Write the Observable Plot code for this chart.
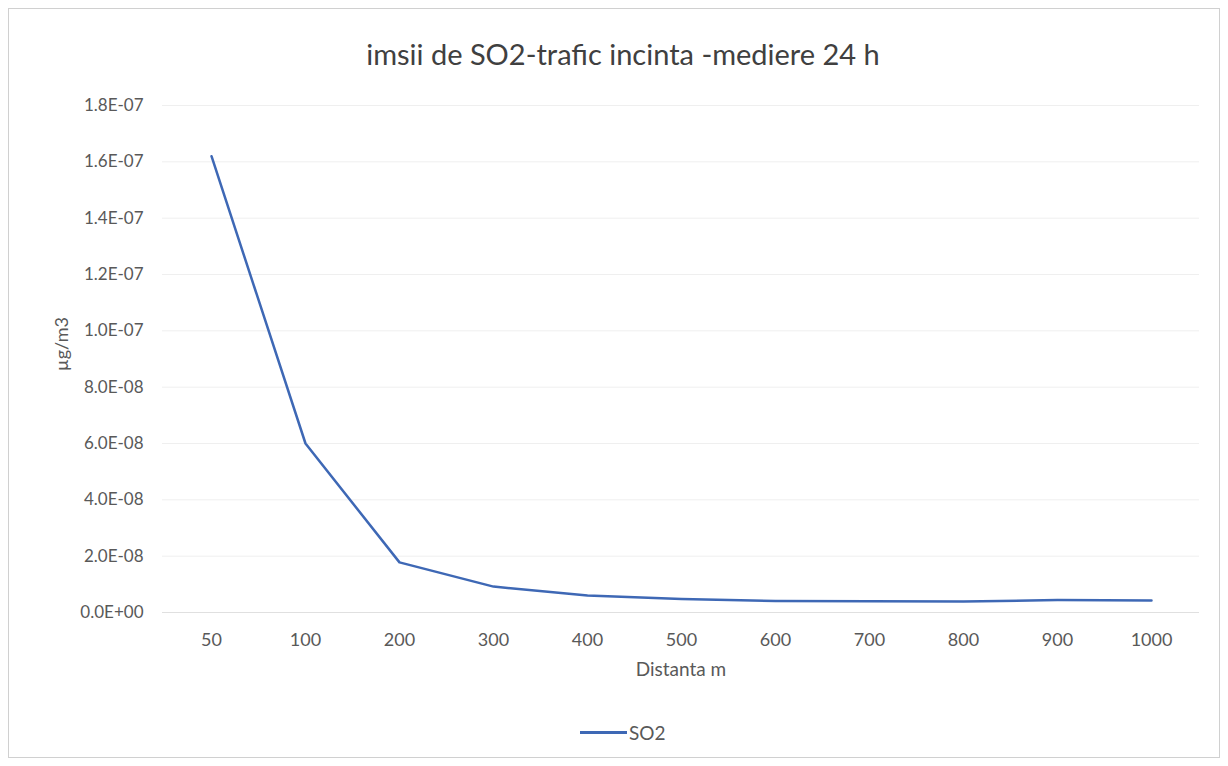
<!DOCTYPE html>
<html>
<head>
<meta charset="utf-8">
<script src="https://cdn.jsdelivr.net/npm/d3@7"></script>
<script src="https://cdn.jsdelivr.net/npm/@observablehq/plot@0.6"></script>
<style>
  html, body { margin: 0; padding: 0; background: #fff; }
  body { width: 1228px; height: 766px; position: relative; overflow: hidden; font-family: Lato, "Open Sans", sans-serif; }
  #frame { position: absolute; left: 8px; top: 8px; width: 1212px; height: 750px; border: 1px solid #d0d0d0; box-sizing: border-box; }
  #title { position: absolute; top: 36px; left: 0; width: 1246px; text-align: center; font-size: 29px; color: #404040; }
  #chart { position: absolute; left: 0; top: 90px; }
  #legend { position: absolute; top: 721px; left: 580px; font-size: 19px; color: #595959; display: flex; align-items: center; }
  #legend .sw { width: 47px; height: 3px; background: #3e68b5; margin-right: 2px; }
</style>
</head>
<body>
<div id="frame"></div>
<div id="title">imsii de SO2-trafic incinta -mediere 24 h</div>
<div id="chart"></div>
<div id="legend"><span class="sw"></span><span>SO2</span></div>
<script>
const distances = ["50", "100", "200", "300", "400", "500", "600", "700", "800", "900", "1000"];
const so2 = [1.62e-7, 6.0e-8, 1.78e-8, 9.2e-9, 6.0e-9, 4.8e-9, 4.1e-9, 4.0e-9, 3.9e-9, 4.4e-9, 4.3e-9];
const yTicks = [0, 2e-8, 4e-8, 6e-8, 8e-8, 1.0e-7, 1.2e-7, 1.4e-7, 1.6e-7, 1.8e-7];

const data = distances.map((d, i) => ({distance: d, value: so2[i]}));

function sci(v) {
  if (v === 0) return "0.0E+00";
  let e = Math.floor(Math.log10(Math.abs(v)) + 1e-9);
  let m = v / Math.pow(10, e);
  if (Math.round(m * 10) / 10 >= 10) { m /= 10; e += 1; }
  const sign = e < 0 ? "-" : "+";
  const ae = Math.abs(e);
  return m.toFixed(1) + "E" + sign + (ae < 10 ? "0" : "") + ae;
}

const chart = Plot.plot({
  width: 1228,
  height: 600,
  marginTop: 15,
  marginLeft: 162,
  marginRight: 29,
  marginBottom: 78,
  style: { fontFamily: "Lato, 'Open Sans', sans-serif", fontSize: "17px", color: "#595959", background: "transparent" },
  x: { type: "point", domain: distances, padding: 0.5, label: null },
  y: { domain: [0, 1.8e-7], label: null },
  marks: [
    Plot.gridY(yTicks, { stroke: "#efefef", strokeOpacity: 1 }),
    Plot.axisY(yTicks, { tickFormat: sci, tickSize: 0, tickPadding: 19, label: null, fill: "#595959", fontSize: 17 }),
    Plot.axisX({ tickSize: 0, tickPadding: 21, label: null, fill: "#595959", fontSize: 18 }),
    Plot.ruleY([0], { stroke: "#e0e0e0" }),
    Plot.line(data, { x: "distance", y: "value", stroke: "#3e68b5", strokeWidth: 2.5 }),
    Plot.text(["Distanta m"], { frameAnchor: "bottom", dy: 63, fontSize: 19, fill: "#595959" }),
    Plot.text(["µg/m3"], { frameAnchor: "left", dx: -100, dy: 12, rotate: -90, fontSize: 18, fill: "#595959" })
  ]
});
document.getElementById("chart").appendChild(chart);
</script>
</body>
</html>
